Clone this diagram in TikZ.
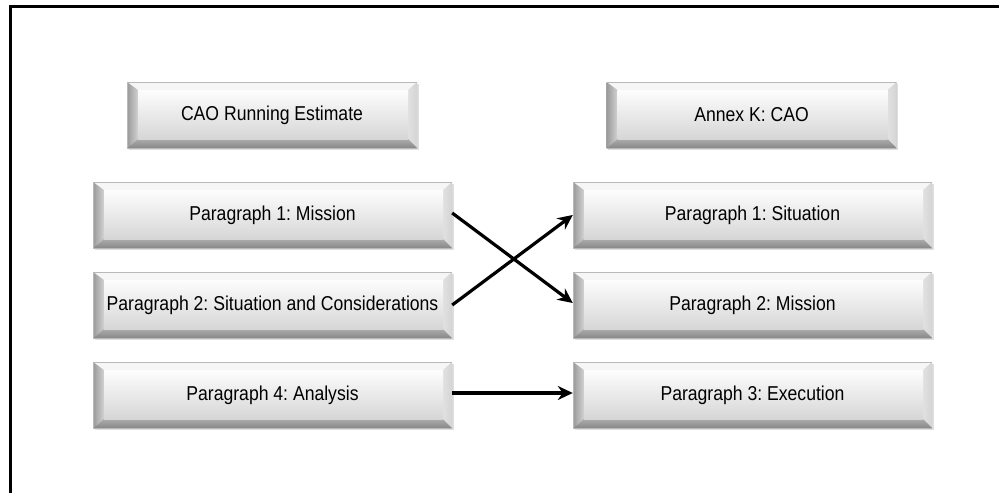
\documentclass[tikz,border=0pt]{standalone}
\usepackage{fontspec}
\usepackage{graphicx}
\setmainfont{Liberation Sans}
\frenchspacing
\usetikzlibrary{arrows.meta,shadows,calc}
\definecolor{bevtop}{HTML}{F6F6F6}
\definecolor{bevleft}{HTML}{B4B4B4}
\definecolor{bevright}{HTML}{D4D4D4}
\definecolor{bevbot}{HTML}{888888}
\definecolor{faceTop}{HTML}{FDFDFD}
\definecolor{faceBot}{HTML}{D6D6D6}
\newcommand{\tx}[1]{\scalebox{1}[1.14]{#1}}
\tikzset{
  bevel/.style={rectangle, minimum width=359pt, minimum height=66pt, inner sep=0pt,
    font=\fontsize{17.6}{20}\selectfont, text=black,
    drop shadow={opacity=0.25, shadow xshift=1.5pt, shadow yshift=-2pt},
    fill=white,
    path picture={
      \coordinate (nw) at (path picture bounding box.north west);
      \coordinate (ne) at (path picture bounding box.north east);
      \coordinate (sw) at (path picture bounding box.south west);
      \coordinate (se) at (path picture bounding box.south east);
      \coordinate (inw) at ([xshift=11pt,yshift=-8pt]nw);
      \coordinate (ine) at ([xshift=-9pt,yshift=-8pt]ne);
      \coordinate (isw) at ([xshift=11pt,yshift=9pt]sw);
      \coordinate (ise) at ([xshift=-9pt,yshift=9pt]se);
      \fill[bevtop] (nw) -- (ne) -- (ine) -- (inw) -- cycle;
      \shade[left color=bevleft!85!black, right color=bevleft!60!white] (nw) -- (inw) -- (isw) -- (sw) -- cycle;
      \shade[left color=bevright!70!white, right color=bevright] (ne) -- (ine) -- (ise) -- (se) -- cycle;
      \shade[top color=bevbot!70!white, bottom color=bevbot] (sw) -- (isw) -- (ise) -- (se) -- cycle;
      \shade[top color=faceTop, bottom color=faceBot] (inw) rectangle (ise);
      \draw[gray!55, line width=0.8pt] (nw) rectangle (se);
    }},
  small/.style={bevel, minimum width=290pt},
  arr/.style={line width=3.2pt, -{Stealth[length=15pt,width=14pt]}},
  frame/.style={line width=3pt}
}
\begin{document}
\begin{tikzpicture}[x=1pt,y=-1pt]
\useasboundingbox (0,0) rectangle (999,493);
\coordinate (fb) at (10.5,493);
\coordinate (fc) at (10.5,6);
\coordinate (fe) at (999,6);
\draw[frame] (fb) -- (fc) -- (fe);

\node[small] (cao) at (272,115) {\tx{CAO Running Estimate}};
\node[small] (annex) at (751.5,115) {\tx{Annex K: CAO}};

\node[bevel] (l1) at (272.5,215) {\tx{Paragraph 1: Mission}};
\node[bevel] (l2) at (272.5,305) {\tx{Paragraph 2: Situation and Considerations}};
\node[bevel] (l4) at (272.5,395) {\tx{Paragraph 4: Analysis}};

\node[bevel] (r1) at (752.5,215) {\tx{Paragraph 1: Situation}};
\node[bevel] (r2) at (752.5,305) {\tx{Paragraph 2: Mission}};
\node[bevel] (r3) at (752.5,395) {\tx{Paragraph 3: Execution}};

\draw[arr] ([yshift=2pt]l1.east) -- ([yshift=2pt]r2.west);
\draw[arr] (l2.east) -- (r1.west);
\draw[arr] ([yshift=2pt]l4.east) -- ([yshift=2pt]r3.west);
\end{tikzpicture}
\end{document}
